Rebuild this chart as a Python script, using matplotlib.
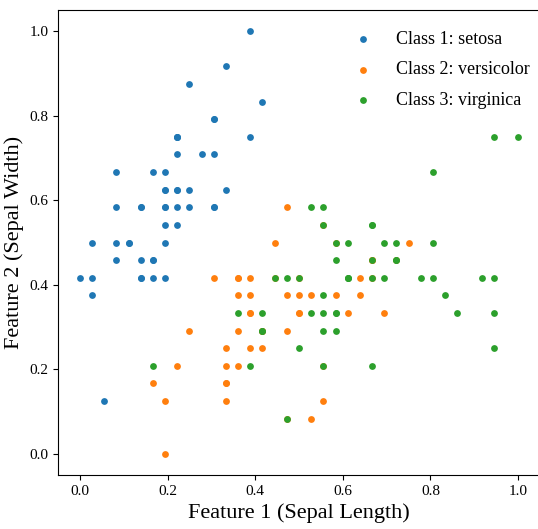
import numpy as np
import matplotlib
matplotlib.use('Agg')
import matplotlib.pyplot as plt

plt.rcParams['font.family'] = 'serif'
plt.rcParams['font.serif'] = ['Liberation Serif', 'DejaVu Serif']

# Iris: sepal length / sepal width (cm), one list per class
setosa_len = [5.1, 4.9, 4.7, 4.6, 5.0, 5.4, 4.6, 5.0, 4.4, 4.9, 5.4, 4.8, 4.8, 4.3, 5.8, 5.7, 5.4,
              5.1, 5.7, 5.1, 5.4, 5.1, 4.6, 5.1, 4.8, 5.0, 5.0, 5.2, 5.2, 4.7, 4.8, 5.4, 5.2, 5.5,
              4.9, 5.0, 5.5, 4.9, 4.4, 5.1, 5.0, 4.5, 4.4, 5.0, 5.1, 4.8, 5.1, 4.6, 5.3, 5.0]
setosa_wid = [3.5, 3.0, 3.2, 3.1, 3.6, 3.9, 3.4, 3.4, 2.9, 3.1, 3.7, 3.4, 3.0, 3.0, 4.0, 4.4, 3.9,
              3.5, 3.8, 3.8, 3.4, 3.7, 3.6, 3.3, 3.4, 3.0, 3.4, 3.5, 3.4, 3.2, 3.1, 3.4, 4.1, 4.2,
              3.1, 3.2, 3.5, 3.6, 3.0, 3.4, 3.5, 2.3, 3.2, 3.5, 3.8, 3.0, 3.8, 3.2, 3.7, 3.3]
versi_len = [7.0, 6.4, 6.9, 5.5, 6.5, 5.7, 6.3, 4.9, 6.6, 5.2, 5.0, 5.9, 6.0, 6.1, 5.6, 6.7, 5.6,
             5.8, 6.2, 5.6, 5.9, 6.1, 6.3, 6.1, 6.4, 6.6, 6.8, 6.7, 6.0, 5.7, 5.5, 5.5, 5.8, 6.0,
             5.4, 6.0, 6.7, 6.3, 5.6, 5.5, 5.5, 6.1, 5.8, 5.0, 5.6, 5.7, 5.7, 6.2, 5.1, 5.7]
versi_wid = [3.2, 3.2, 3.1, 2.3, 2.8, 2.8, 3.3, 2.4, 2.9, 2.7, 2.0, 3.0, 2.2, 2.9, 2.9, 3.1, 3.0,
             2.7, 2.2, 2.5, 3.2, 2.8, 2.5, 2.8, 2.9, 3.0, 2.8, 3.0, 2.9, 2.6, 2.4, 2.4, 2.7, 2.7,
             3.0, 3.4, 3.1, 2.3, 3.0, 2.5, 2.6, 3.0, 2.6, 2.3, 2.7, 3.0, 2.9, 2.9, 2.5, 2.8]
virg_len = [6.3, 5.8, 7.1, 6.3, 6.5, 7.6, 4.9, 7.3, 6.7, 7.2, 6.5, 6.4, 6.8, 5.7, 5.8, 6.4, 6.5,
            7.7, 7.7, 6.0, 6.9, 5.6, 7.7, 6.3, 6.7, 7.2, 6.2, 6.1, 6.4, 7.2, 7.4, 7.9, 6.4, 6.3,
            6.1, 7.7, 6.3, 6.4, 6.0, 6.9, 6.7, 6.9, 5.8, 6.8, 6.7, 6.7, 6.3, 6.5, 6.2, 5.9]
virg_wid = [3.3, 2.7, 3.0, 2.9, 3.0, 3.0, 2.5, 2.9, 2.5, 3.6, 3.2, 2.7, 3.0, 2.5, 2.8, 3.2, 3.0,
            3.8, 2.6, 2.2, 3.2, 2.8, 2.8, 2.7, 3.3, 3.2, 2.8, 3.0, 2.8, 3.0, 2.8, 3.8, 2.8, 2.8,
            2.6, 3.0, 3.4, 3.1, 3.0, 3.1, 3.1, 3.1, 2.7, 3.2, 3.3, 3.0, 2.5, 3.0, 3.4, 3.0]

labels = ['Class 1: setosa', 'Class 2: versicolor', 'Class 3: virginica']
colors = ['#1f77b4', '#ff7f0e', '#2ca02c']

# min-max scaling over all samples
all_len = np.array(setosa_len + versi_len + virg_len)
all_wid = np.array(setosa_wid + versi_wid + virg_wid)

def scale(v, ref):
    return (np.array(v) - ref.min()) / (ref.max() - ref.min())

groups = [(setosa_len, setosa_wid), (versi_len, versi_wid), (virg_len, virg_wid)]

fig = plt.figure(figsize=(5.38, 5.29), dpi=100)
ax = fig.add_axes([58 / 538, 54 / 529, 482 / 538, 465 / 529])

for (sl, sw), lab, c in zip(groups, labels, colors):
    ax.scatter(scale(sl, all_len), scale(sw, all_wid), s=24, color=c, label=lab, linewidths=0)

ax.set_xlim(-0.05, 1.05)
ax.set_ylim(-0.05, 1.05)
ax.set_xticks([0.0, 0.2, 0.4, 0.6, 0.8, 1.0])
ax.set_yticks([0.0, 0.2, 0.4, 0.6, 0.8, 1.0])
ax.tick_params(labelsize=11)
ax.set_xlabel('Feature 1 (Sepal Length)', fontsize=16)
ax.set_ylabel('Feature 2 (Sepal Width)', fontsize=16)
ax.legend(loc='upper right', bbox_to_anchor=(1.012, 0.99), frameon=False, fontsize=13,
          markerscale=1.0, labelspacing=0.75)

fig.savefig('out.png', dpi=100)
